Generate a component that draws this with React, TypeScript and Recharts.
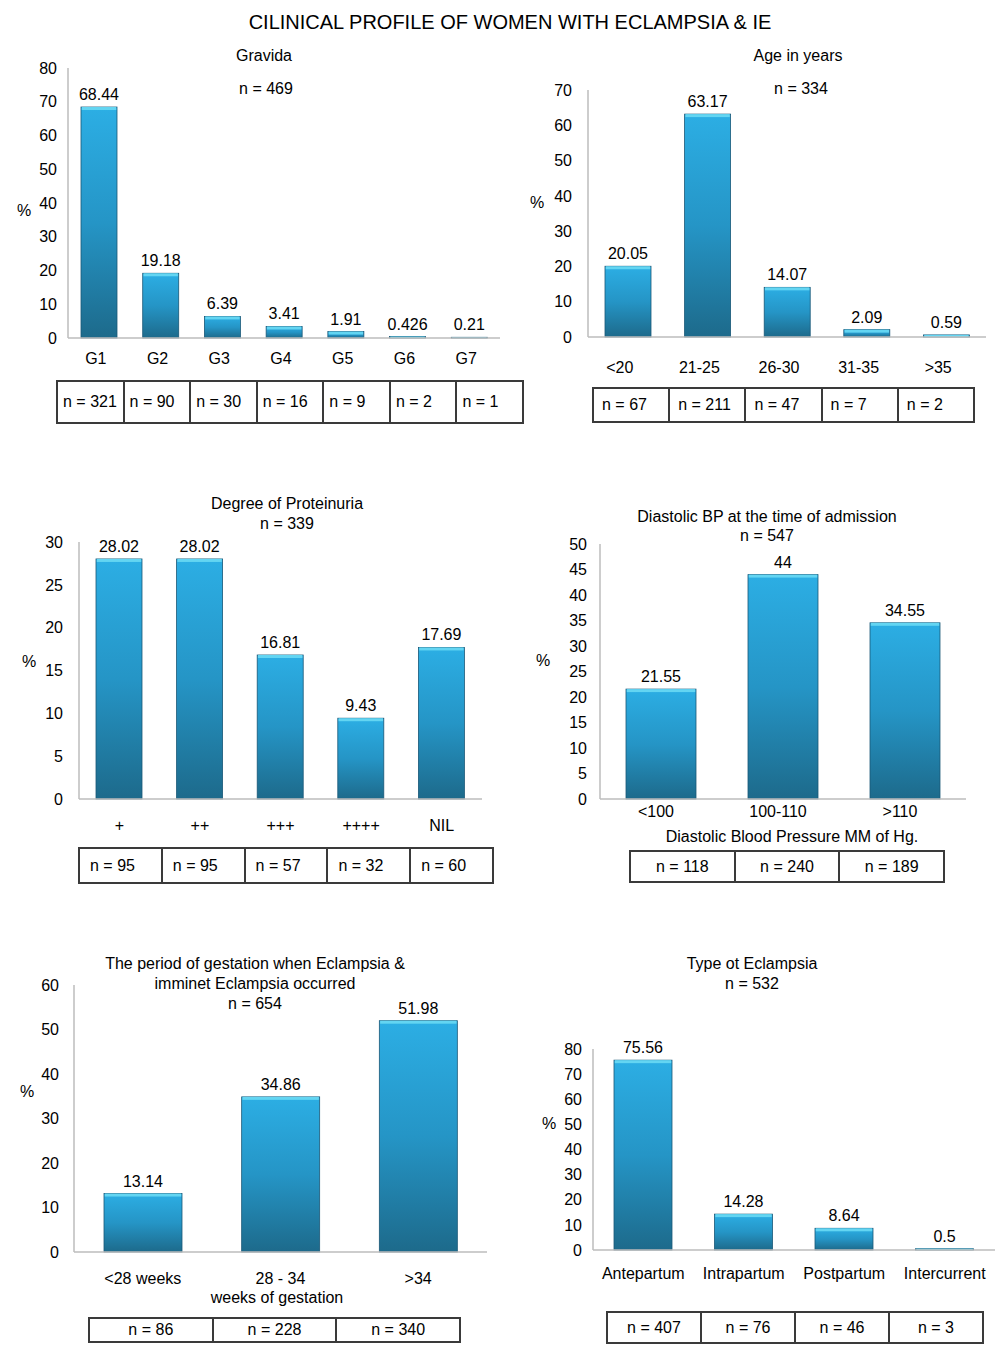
import React from 'react';
import { BarChart, Bar, XAxis, YAxis, LabelList } from 'recharts';

// ---------- DATA ----------
const gravidaCats = ['G1', 'G2', 'G3', 'G4', 'G5', 'G6', 'G7'];
const gravidaPct = [68.44, 19.18, 6.39, 3.41, 1.91, 0.426, 0.21];
const gravidaN = ['n = 321', 'n = 90', 'n = 30', 'n = 16', 'n = 9', 'n = 2', 'n = 1'];
const gravidaTicks = [0, 10, 20, 30, 40, 50, 60, 70, 80];

const ageCats = ['<20', '21-25', '26-30', '31-35', '>35'];
const agePct = [20.05, 63.17, 14.07, 2.09, 0.59];
const ageN = ['n = 67', 'n = 211', 'n = 47', 'n = 7', 'n = 2'];
const ageTicks = [0, 10, 20, 30, 40, 50, 60, 70];

const protCats = ['+', '++', '+++', '++++', 'NIL'];
const protPct = [28.02, 28.02, 16.81, 9.43, 17.69];
const protN = ['n = 95', 'n = 95', 'n = 57', 'n = 32', 'n = 60'];
const protTicks = [0, 5, 10, 15, 20, 25, 30];

const bpCats = ['<100', '100-110', '>110'];
const bpPct = [21.55, 44, 34.55];
const bpN = ['n = 118', 'n = 240', 'n = 189'];
const bpTicks = [0, 5, 10, 15, 20, 25, 30, 35, 40, 45, 50];

const gestCats = ['<28 weeks', '28 - 34', '>34'];
const gestPct = [13.14, 34.86, 51.98];
const gestN = ['n = 86', 'n = 228', 'n = 340'];
const gestTicks = [0, 10, 20, 30, 40, 50, 60];

const typeCats = ['Antepartum', 'Intrapartum', 'Postpartum', 'Intercurrent'];
const typePct = [75.56, 14.28, 8.64, 0.5];
const typeN = ['n = 407', 'n = 76', 'n = 46', 'n = 3'];
const typeTicks = [0, 10, 20, 30, 40, 50, 60, 70, 80];

const mainTitle = 'CILINICAL PROFILE OF WOMEN WITH ECLAMPSIA & IE';

// ---------- LAYOUT ----------
const FONT = '"Liberation Sans", Arial, Helvetica, sans-serif';
const AXIS = '#bcbcbc';

const build = (cats: string[], vals: number[]) => cats.map((c, i) => ({ name: c, value: vals[i] }));

type Plot = { l: number; r: number; t: number; b: number };

function renderBar(props: any, gid: string) {
  const { x, y, width, height } = props;
  if (!height || height <= 0) return <g />;
  const cap = Math.min(3, height);
  return (
    <g>
      <rect x={x} y={y} width={width} height={height} fill={`url(#${gid})`} stroke="#1a5877" strokeWidth={0.8} />
      <rect x={x + 0.8} y={y} width={Math.max(0, width - 1.6)} height={cap} fill="#63d5f2" />
    </g>
  );
}

function Panel(p: {
  id: string;
  cats: string[];
  vals: number[];
  ticks: number[];
  plot: Plot;
  barSize: number;
  xTickMargin: number;
  yTickMargin: number;
  xDx?: number;
}) {
  const padL = 60, padT = 30, padR = 2, padB = 45;
  const width = p.plot.r - p.plot.l + padL + padR;
  const height = p.plot.b - p.plot.t + padT + padB;
  const data = build(p.cats, p.vals);
  const yMax = p.ticks[p.ticks.length - 1];
  return (
    <div style={{ position: 'absolute', left: p.plot.l - padL, top: p.plot.t - padT }}>
      <BarChart width={width} height={height} data={data} margin={{ top: padT, right: padR, left: 0, bottom: 0 }}>
        <defs>
          <linearGradient id={p.id} x1="0" y1="0" x2="0" y2="1">
            <stop offset="0%" stopColor="#2caee4" />
            <stop offset="50%" stopColor="#2595c6" />
            <stop offset="100%" stopColor="#1d6a8b" />
          </linearGradient>
        </defs>
        <XAxis
          dataKey="name"
          height={padB}
          interval={0}
          tickLine={false}
          tickSize={0}
          tickMargin={p.xTickMargin}
          axisLine={{ stroke: AXIS, strokeWidth: 1.5 }}
          tick={{ fill: '#000', fontSize: 16, dx: p.xDx || 0 }}
        />
        <YAxis
          width={padL}
          domain={[0, yMax]}
          ticks={p.ticks}
          interval={0}
          tickLine={false}
          tickSize={0}
          tickMargin={p.yTickMargin}
          axisLine={{ stroke: AXIS, strokeWidth: 1.5 }}
          tick={{ fill: '#000', fontSize: 16 }}
        />
        <Bar dataKey="value" barSize={p.barSize} isAnimationActive={false} shape={(props: any) => renderBar(props, p.id)}>
          <LabelList dataKey="value" position="top" offset={7} fill="#000" fontSize={16} />
        </Bar>
      </BarChart>
    </div>
  );
}

function NTable(p: { items: string[]; l: number; r: number; t: number; b: number; align: 'left' | 'center'; pad?: number }) {
  return (
    <div
      style={{
        position: 'absolute',
        left: p.l - 1,
        top: p.t - 1,
        width: p.r - p.l + 2,
        height: p.b - p.t + 2,
        boxSizing: 'border-box',
        border: '2px solid #3a3a3a',
        display: 'flex',
        fontSize: 16,
        color: '#000',
      }}
    >
      {p.items.map((s, i) => (
        <div
          key={i}
          style={{
            flex: 1,
            boxSizing: 'border-box',
            borderLeft: i === 0 ? 'none' : '2px solid #3a3a3a',
            display: 'flex',
            alignItems: 'center',
            justifyContent: p.align === 'center' ? 'center' : 'flex-start',
            paddingLeft: p.align === 'left' ? p.pad : 0,
            whiteSpace: 'nowrap',
          }}
        >
          {s}
        </div>
      ))}
    </div>
  );
}

type Lbl = { x: number; y: number; s: string; size?: number };
const labels: Lbl[] = [
  { x: 510, y: 22, s: mainTitle, size: 20 },
  { x: 264, y: 55, s: 'Gravida' },
  { x: 266, y: 88, s: 'n = 469' },
  { x: 24, y: 210, s: '%' },
  { x: 798, y: 55, s: 'Age in years' },
  { x: 801, y: 88, s: 'n = 334' },
  { x: 537, y: 202, s: '%' },
  { x: 287, y: 503, s: 'Degree of Proteinuria' },
  { x: 287, y: 523, s: 'n = 339' },
  { x: 29, y: 661, s: '%' },
  { x: 767, y: 516, s: 'Diastolic BP at the time of admission' },
  { x: 767, y: 535, s: 'n = 547' },
  { x: 792, y: 836, s: 'Diastolic Blood Pressure MM of Hg.' },
  { x: 543, y: 660, s: '%' },
  { x: 255, y: 963, s: 'The period of gestation when Eclampsia &' },
  { x: 255, y: 983, s: 'imminet Eclampsia occurred' },
  { x: 255, y: 1003, s: 'n = 654' },
  { x: 277, y: 1297, s: 'weeks of gestation' },
  { x: 27, y: 1091, s: '%' },
  { x: 752, y: 963, s: 'Type ot Eclampsia' },
  { x: 752, y: 983, s: 'n = 532' },
  { x: 549, y: 1123, s: '%' },
];

export default function App() {
  return (
    <div
      style={{
        position: 'absolute',
        left: 0,
        top: 0,
        width: 997,
        height: 1347,
        overflow: 'hidden',
        background: '#fff',
        fontFamily: FONT,
      }}
    >
      <Panel id="gGrav" cats={gravidaCats} vals={gravidaPct} ticks={gravidaTicks}
        plot={{ l: 68, r: 500, t: 68, b: 338 }} barSize={36} xTickMargin={15} yTickMargin={11} xDx={-3} />
      <Panel id="gAge" cats={ageCats} vals={agePct} ticks={ageTicks}
        plot={{ l: 588, r: 986, t: 90, b: 337 }} barSize={46} xTickMargin={25} yTickMargin={16} xDx={-8} />
      <Panel id="gProt" cats={protCats} vals={protPct} ticks={protTicks}
        plot={{ l: 79, r: 482, t: 542, b: 799 }} barSize={46} xTickMargin={21} yTickMargin={16} />
      <Panel id="gBp" cats={bpCats} vals={bpPct} ticks={bpTicks}
        plot={{ l: 600, r: 966, t: 544, b: 799 }} barSize={70} xTickMargin={7} yTickMargin={13} xDx={-5} />
      <Panel id="gGest" cats={gestCats} vals={gestPct} ticks={gestTicks}
        plot={{ l: 74, r: 487, t: 985, b: 1252 }} barSize={78} xTickMargin={21} yTickMargin={15} />
      <Panel id="gType" cats={typeCats} vals={typePct} ticks={typeTicks}
        plot={{ l: 593, r: 995, t: 1049, b: 1250 }} barSize={58} xTickMargin={18} yTickMargin={11} />

      <NTable items={gravidaN} l={57} r={523} t={381} b={423} align="left" pad={5} />
      <NTable items={ageN} l={593} r={974} t={388} b={422} align="left" pad={8} />
      <NTable items={protN} l={79} r={493} t={848} b={883} align="left" pad={10} />
      <NTable items={bpN} l={630} r={944} t={851} b={882} align="center" />
      <NTable items={gestN} l={89} r={460} t={1318} b={1342} align="center" />
      <NTable items={typeN} l={607} r={983} t={1312} b={1343} align="center" />

      <svg width={997} height={1347} style={{ position: 'absolute', left: 0, top: 0, pointerEvents: 'none' }}>
        {labels.map((t, i) => (
          <text key={i} x={t.x} y={t.y} textAnchor="middle" dominantBaseline="central" fontSize={t.size || 16} fill="#000" fontFamily={FONT}>
            {t.s}
          </text>
        ))}
      </svg>
    </div>
  );
}
